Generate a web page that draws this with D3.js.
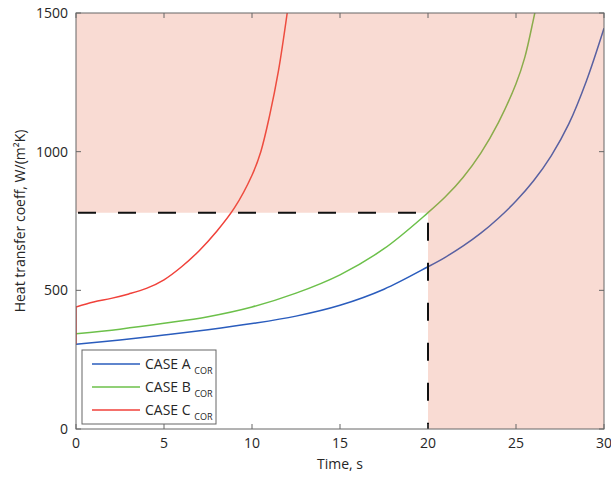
<!DOCTYPE html>
<html>
<head>
<meta charset="utf-8">
<script src="https://cdn.jsdelivr.net/npm/d3@7"></script>
<style>
  body { margin: 0; background: #fff; }
  text { font-family: "Open Sans", sans-serif; fill: #262626; }
</style>
</head>
<body>
<script>
var w = 611;
var h = 477;

// data
var timeA = [0, 2.5, 5, 7.5, 10, 12.5, 15, 17.5, 20, 21, 22, 23, 24, 25, 26, 27, 28, 29, 30];
var caseA = [306, 321, 339, 358, 380, 407, 446, 504, 585, 620, 660, 706, 760, 822, 895, 985, 1100, 1255, 1445];
var timeB = [0, 2.5, 5, 7.5, 10, 12.5, 15, 17.5, 20, 21, 22, 23, 24, 25, 25.5, 26, 26.2];
var caseB = [343, 360, 381, 405, 440, 490, 556, 650, 780, 838, 908, 995, 1105, 1245, 1340, 1480, 1540];
var timeC = [0, 0, 1, 2, 3, 4, 5, 6, 7, 8, 9, 10, 10.5, 11, 11.5, 12];
var caseC = [306, 440, 458, 471, 487, 507, 538, 585, 643, 713, 797, 915, 1000, 1130, 1290, 1500];
var seriesNames = ['CASE A', 'CASE B', 'CASE C'];
var seriesColors = ['#2a5cbd', '#6cc04a', '#f0413a'];
var limitTime = 20;
var limitH = 780;
var xTicks = [0, 5, 10, 15, 20, 25, 30];
var yTicks = [0, 500, 1000, 1500];

var x0 = 76, x1 = 604, y0 = 13, y1 = 429;

var x = d3.scaleLinear().domain([0, 30]).range([x0, x1]);
var y = d3.scaleLinear().domain([0, 1500]).range([y1, y0]);

var svg = d3.select('body')
  .append('svg')
  .attr('width', w)
  .attr('height', h);

svg.append('defs').append('clipPath')
  .attr('id', 'plot')
  .append('rect')
  .attr('x', x0).attr('y', y0)
  .attr('width', x1 - x0).attr('height', y1 - y0);

var g = svg.append('g').attr('clip-path', 'url(#plot)');

var straight = d3.line()
  .x(function (d) { return x(d[0]); })
  .y(function (d) { return y(d[1]); });
var smooth = d3.line()
  .x(function (d) { return x(d[0]); })
  .y(function (d) { return y(d[1]); })
  .curve(d3.curveCatmullRom.alpha(0.5));

var series = [
  d3.zip(timeA, caseA),
  d3.zip(timeB, caseB),
  d3.zip(timeC, caseC)
];

series.forEach(function (s, i) {
  // case C jumps at t = 0, draw that step straight
  var d = s[0][0] === s[1][0]
    ? straight(s.slice(0, 2)) + smooth(s.slice(1)).replace(/^M/, 'L')
    : smooth(s);
  g.append('path')
    .attr('d', d)
    .attr('fill', 'none')
    .attr('stroke', seriesColors[i])
    .attr('stroke-width', 1.5);
});

// shaded region: everything except the box 0..limitTime x 0..limitH
var shade = 'M' + x(0) + ',' + y(1500) +
  'L' + x(30) + ',' + y(1500) +
  'L' + x(30) + ',' + y(0) +
  'L' + x(limitTime) + ',' + y(0) +
  'L' + x(limitTime) + ',' + y(limitH) +
  'L' + x(0) + ',' + y(limitH) + 'Z';
g.append('path')
  .attr('d', shade)
  .attr('fill', 'rgb(231,112,80)')
  .attr('opacity', 0.25);

g.append('path')
  .attr('d', straight([[0, limitH], [limitTime, limitH], [limitTime, 0]]))
  .attr('fill', 'none')
  .attr('stroke', '#111')
  .attr('stroke-width', 2)
  .attr('stroke-dasharray', '18,22')
  .attr('stroke-dashoffset', -2);

// axes box with inward ticks
var axisColor = '#666';
svg.append('rect')
  .attr('x', x0).attr('y', y0)
  .attr('width', x1 - x0).attr('height', y1 - y0)
  .attr('fill', 'none')
  .attr('stroke', axisColor)
  .attr('stroke-width', 1);

var tickLen = 5;
xTicks.forEach(function (t) {
  svg.append('line')
    .attr('x1', x(t)).attr('x2', x(t))
    .attr('y1', y1).attr('y2', y1 - tickLen)
    .attr('stroke', axisColor);
  svg.append('line')
    .attr('x1', x(t)).attr('x2', x(t))
    .attr('y1', y0).attr('y2', y0 + tickLen)
    .attr('stroke', axisColor);
  svg.append('text')
    .attr('x', x(t)).attr('y', y1 + 19)
    .attr('text-anchor', 'middle')
    .style('font-size', '14px')
    .text(t);
});
yTicks.forEach(function (t) {
  svg.append('line')
    .attr('x1', x0).attr('x2', x0 + tickLen)
    .attr('y1', y(t)).attr('y2', y(t))
    .attr('stroke', axisColor);
  svg.append('line')
    .attr('x1', x1).attr('x2', x1 - tickLen)
    .attr('y1', y(t)).attr('y2', y(t))
    .attr('stroke', axisColor);
  svg.append('text')
    .attr('x', x0 - 8).attr('y', y(t) + 5)
    .attr('text-anchor', 'end')
    .style('font-size', '14px')
    .text(t);
});

svg.append('text')
  .attr('x', (x0 + x1) / 2).attr('y', 469)
  .attr('text-anchor', 'middle')
  .style('font-size', '14px')
  .text('Time, s');

svg.append('text')
  .attr('transform', 'translate(25,' + ((y0 + y1) / 2) + ') rotate(-90)')
  .attr('text-anchor', 'middle')
  .style('font-size', '14px')
  .text('Heat transfer coeff, W/(m\u00B2K)');

// legend
var lg = svg.append('g');
lg.append('rect')
  .attr('x', 82).attr('y', 350)
  .attr('width', 134).attr('height', 74)
  .attr('fill', '#fff')
  .attr('stroke', axisColor);
seriesNames.forEach(function (n, i) {
  var yy = 364 + i * 23;
  lg.append('line')
    .attr('x1', 92).attr('x2', 140)
    .attr('y1', yy).attr('y2', yy)
    .attr('stroke', seriesColors[i])
    .attr('stroke-width', 1.5);
  var t = lg.append('text')
    .attr('x', 145).attr('y', yy + 5)
    .style('font-size', '14px');
  t.append('tspan').text(n + ' ');
  t.append('tspan')
    .attr('dy', 5)
    .style('font-size', '9px')
    .text('COR');
});
</script>
</body>
</html>
